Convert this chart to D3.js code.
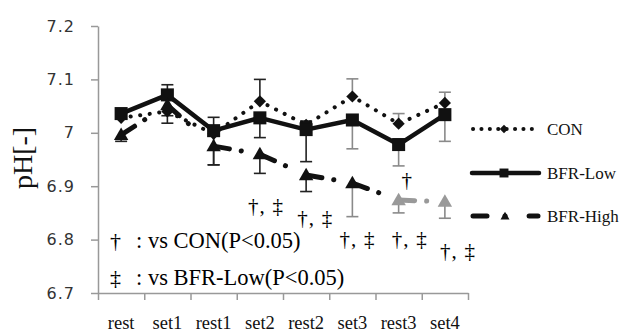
<!DOCTYPE html>
<html><head><meta charset="utf-8">
<script src="https://cdn.jsdelivr.net/npm/d3@7"></script>
<style>html,body{margin:0;padding:0;background:#fff;}svg{display:block;}</style>
</head><body>
<svg id="c" width="624" height="334"></svg>
<script>
const categories = ["rest","set1","rest1","set2","rest2","set3","rest3","set4"];
const conValues  = [7.028, 7.040, 6.998, 7.059, 7.015, 7.068, 7.017, 7.056];
const conErrUp   = [0.010, 0.050, 0.031, 0.041, 0.007, 0.033, 0.019, 0.020];
const lowValues  = [7.036, 7.071, 7.004, 7.028, 7.006, 7.024, 6.978, 7.034];
const lowErrDown = [0.010, 0.053, 0.064, 0.037, 0.060, 0.054, 0.040, 0.050];
const highValues = [6.996, 7.052, 6.975, 6.960, 6.921, 6.906, 6.874, 6.871];
const highErrDown= [0.012, 0.020, 0.035, 0.036, 0.031, 0.063, 0.024, 0.031];
const yTicks = [6.7, 6.8, 6.9, 7.0, 7.1, 7.2];
const seriesNames = ["CON", "BFR-Low", "BFR-High"];
const yTitle = "pH[-]";
const sigCategories = ["set2","rest2","set3","rest3","set4"];
const sigLabel = "†, ‡";
const sigSingleCategory = "rest3";
const sigSingleLabel = "†";
const noteLines = [["†", ": vs CON(P<0.05)"], ["‡", ": vs BFR-Low(P<0.05)"]];

const svg = d3.select("#c");
const x = d3.scaleBand().domain(categories).range([98, 468]).padding(0);
const y = d3.scaleLinear().domain([6.7, 7.2]).range([293, 26]);
const cx = c => x(c) + x.bandwidth() / 2;

// axes
const yAxis = d3.axisLeft(y).tickValues(yTicks).tickSize(7).tickSizeOuter(0)
  .tickFormat(d => String(+d.toFixed(1)));
const gy = svg.append("g").attr("transform", "translate(98,0)").call(yAxis);
gy.select(".domain").attr("stroke", "#999").attr("stroke-width", 1.5);
gy.selectAll(".tick line").attr("stroke", "#999").attr("stroke-width", 1.5);
gy.selectAll(".tick text").attr("x", -23).attr("font-family", "DejaVu Sans")
  .attr("font-size", 16).attr("letter-spacing", 1).attr("fill", "#333");

const xb = d3.scaleLinear().domain([0, categories.length]).range([98, 468]);
const xAxis = d3.axisBottom(xb).tickValues(d3.range(0, categories.length + 1))
  .tickSize(7).tickSizeOuter(0).tickFormat("");
const gx = svg.append("g").attr("transform", "translate(0,293)").call(xAxis);
gx.select(".domain").attr("stroke", "#999").attr("stroke-width", 1.5);
gx.selectAll(".tick line").attr("stroke", "#999").attr("stroke-width", 1.5);

svg.append("g").selectAll("text").data(categories).join("text")
  .attr("x", d => cx(d)).attr("y", 329).attr("text-anchor", "middle")
  .attr("font-family", "Liberation Serif").attr("font-size", 18.5).attr("fill", "#111")
  .text(d => d);

svg.append("text").attr("transform", "translate(32,158) rotate(-90)")
  .attr("text-anchor", "middle").attr("font-family", "Liberation Serif")
  .attr("font-size", 28).attr("fill", "#111").text(yTitle);

const errColor = i => i >= 5 ? "#8a8a8a" : "#222";
function errorBars(vals, errs, dir) {
  const g = svg.append("g");
  vals.forEach((v, i) => {
    const xc = cx(categories[i]);
    const y0 = y(v), y1 = y(v + dir * errs[i]);
    g.append("line").attr("x1", xc).attr("x2", xc).attr("y1", y0).attr("y2", y1)
      .attr("stroke", errColor(i)).attr("stroke-width", 1.6);
    g.append("line").attr("x1", xc - 6).attr("x2", xc + 6).attr("y1", y1).attr("y2", y1)
      .attr("stroke", errColor(i)).attr("stroke-width", 1.6);
  });
}
errorBars(conValues, conErrUp, 1);
errorBars(lowValues, lowErrDown, -1);
errorBars(highValues, highErrDown, -1);

const line = d3.line().x((d, i) => cx(categories[i])).y(d => y(d));

// CON dotted
svg.append("path").datum(conValues).attr("d", line).attr("fill", "none")
  .attr("stroke", "#111").attr("stroke-width", 4).attr("stroke-linecap", "round")
  .attr("stroke-dasharray", "0.1,9.5");
svg.append("g").selectAll("path").data(conValues).join("path")
  .attr("transform", (d, i) => `translate(${cx(categories[i])},${y(d)})`)
  .attr("d", d3.symbol(d3.symbolDiamond2, 95)()).attr("fill", "#111");

// BFR-Low solid
svg.append("path").datum(lowValues).attr("d", line).attr("fill", "none")
  .attr("stroke", "#111").attr("stroke-width", 4.5).attr("stroke-linejoin", "round");
svg.append("g").selectAll("path").data(lowValues).join("path")
  .attr("transform", (d, i) => `translate(${cx(categories[i])},${y(d)})`)
  .attr("d", d3.symbol(d3.symbolSquare, 170)()).attr("fill", "#111");

// BFR-High dash-dot, segment by segment
const highColor = i => i >= 6 ? "#999" : "#111";
const gh = svg.append("g");
for (let i = 0; i < highValues.length - 1; i++) {
  gh.append("path").datum([[cx(categories[i]), y(highValues[i])], [cx(categories[i + 1]), y(highValues[i + 1])]])
    .attr("d", d3.line()).attr("fill", "none").attr("stroke", i >= 6 ? "#999" : "#111")
    .attr("stroke-width", 5).attr("stroke-linecap", "round")
    .attr("stroke-dasharray", "16,12,0.1,40");
}
svg.append("g").selectAll("path").data(highValues).join("path")
  .attr("transform", (d, i) => `translate(${cx(categories[i])},${y(d) + 1})`)
  .attr("d", d3.symbol(d3.symbolTriangle, 90)()).attr("fill", (d, i) => highColor(i));

// legend
const lg = svg.append("g");
const legY = [129, 173, 216];
lg.append("line").attr("x1", 473).attr("x2", 537).attr("y1", legY[0]).attr("y2", legY[0])
  .attr("stroke", "#111").attr("stroke-width", 4).attr("stroke-linecap", "round")
  .attr("stroke-dasharray", "0.1,8.3");
lg.append("path").attr("transform", `translate(504,${legY[0]})`)
  .attr("d", d3.symbol(d3.symbolDiamond2, 45)()).attr("fill", "#111");
lg.append("line").attr("x1", 472).attr("x2", 539).attr("y1", legY[1]).attr("y2", legY[1])
  .attr("stroke", "#111").attr("stroke-width", 4.5).attr("stroke-linecap", "round");
lg.append("path").attr("transform", `translate(504,${legY[1]})`)
  .attr("d", d3.symbol(d3.symbolSquare, 80)()).attr("fill", "#111");
lg.append("line").attr("x1", 473).attr("x2", 538).attr("y1", legY[2]).attr("y2", legY[2])
  .attr("stroke", "#111").attr("stroke-width", 5).attr("stroke-linecap", "round")
  .attr("stroke-dasharray", "14,18,0.1,24,10");
lg.append("path").attr("transform", `translate(505,${legY[2]+1})`)
  .attr("d", d3.symbol(d3.symbolTriangle, 35)()).attr("fill", "#111");
lg.selectAll("text").data(seriesNames).join("text")
  .attr("x", 547).attr("y", (d, i) => legY[i] + 6)
  .attr("font-family", "Liberation Serif").attr("font-size", 17).attr("fill", "#111")
  .text(d => d);

// significance marks
const sigLayout = [[-12, 213], [-9, 225], [-13, 246], [-7, 246], [-5, 258]];
svg.append("g").selectAll("text").data(sigCategories).join("text")
  .attr("x", (d, i) => cx(d) + sigLayout[i][0]).attr("y", (d, i) => sigLayout[i][1])
  .attr("font-family", "Liberation Serif").attr("font-size", 21).attr("fill", "#000")
  .attr("textLength", 35).attr("lengthAdjust", "spacing").text(sigLabel);
svg.append("text").attr("x", cx(sigSingleCategory) + 8).attr("y", 187)
  .attr("text-anchor", "middle").attr("font-family", "Liberation Serif")
  .attr("font-size", 21).attr("fill", "#000").text(sigSingleLabel);

// notes
const noteY = [248, 285];
const ng = svg.append("g").attr("font-family", "Liberation Serif").attr("fill", "#000");
noteLines.forEach((ln, i) => {
  ng.append("text").attr("x", 110).attr("y", noteY[i]).attr("font-size", 22).text(ln[0]);
  ng.append("text").attr("x", 136).attr("y", noteY[i]).attr("font-size", 22.5).text(ln[1]);
});
</script>
</body></html>
